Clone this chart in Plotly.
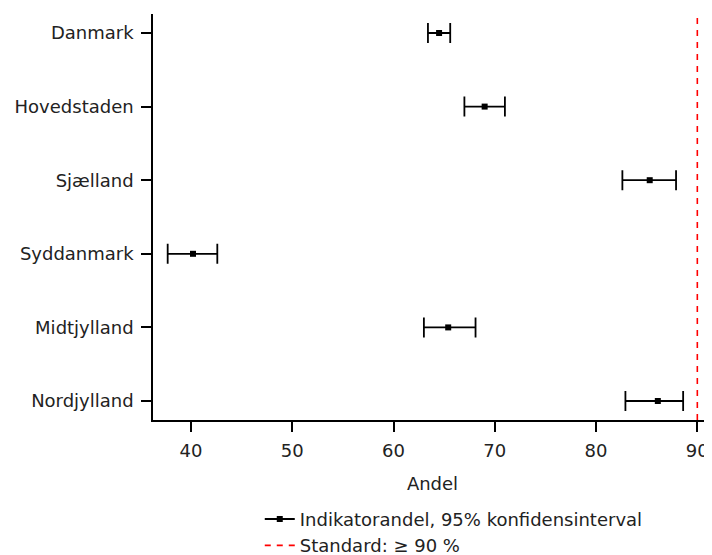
import plotly.graph_objects as go

regions = ["Danmark", "Hovedstaden", "Sjælland", "Syddanmark", "Midtjylland", "Nordjylland"]
andel = [64.5, 69.0, 85.3, 40.2, 65.4, 86.1]
lower = [63.4, 67.0, 82.6, 37.7, 63.0, 82.9]
upper = [65.6, 71.0, 87.9, 42.6, 68.1, 88.6]
standard = 90
tick_vals = [40, 50, 60, 70, 80, 90]

font = dict(family="DejaVu Sans", size=18, color="#222222")
dash_style = dict(color="#ff0000", width=1.6, dash="6px,6px")

fig = go.Figure()
fig.add_trace(go.Scatter(
    x=andel, y=regions, mode="markers",
    marker=dict(symbol="square", size=6, color="black"),
    error_x=dict(type="data", symmetric=False,
                 array=[u - a for u, a in zip(upper, andel)],
                 arrayminus=[a - l for a, l in zip(andel, lower)],
                 color="black", thickness=1.8, width=10),
    showlegend=False, hoverinfo="skip",
))
fig.add_trace(go.Scatter(
    x=[None], y=[None], mode="lines+markers",
    line=dict(color="black", width=1.8),
    marker=dict(symbol="square", size=6, color="black"),
    name="Indikatorandel, 95% konfidensinterval", legendgroup="a",
))
fig.add_trace(go.Scatter(
    x=[None], y=[None], mode="lines",
    line=dash_style,
    name="Standard: ≥ 90 %", legendgroup="b",
))
fig.add_shape(type="line", xref="x", yref="paper", x0=standard, x1=standard, y0=0, y1=1,
              line=dash_style, layer="above")

fig.update_layout(
    width=704, height=547,
    margin=dict(l=145, r=0, t=6, b=135, autoexpand=False),
    paper_bgcolor="white", plot_bgcolor="white",
    font=font,
    legend=dict(orientation="v", x=0.191, xanchor="left", y=-0.199, yanchor="top",
                font=font, tracegroupgap=0, traceorder="grouped",
                bgcolor="rgba(0,0,0,0)"),
    xaxis=dict(range=[36.25, 91.45], tickvals=tick_vals, showgrid=False, zeroline=False,
               showline=True, linecolor="black", linewidth=1.5,
               ticks="outside", ticklen=10, tickwidth=1.5, tickcolor="black",
               ticklabelstandoff=4, automargin=False,
               title=dict(text="Andel", font=font, standoff=17)),
    yaxis=dict(categoryorder="array", categoryarray=regions, range=[5.258, -0.258],
               showgrid=False, zeroline=False,
               showline=True, linecolor="black", linewidth=1.5,
               ticks="outside", ticklen=10, tickwidth=1.5, tickcolor="black",
               ticklabelstandoff=4, automargin=False),
)
fig.write_html("out.html")
